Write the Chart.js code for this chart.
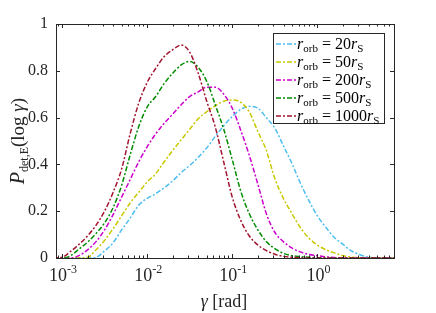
<!DOCTYPE html>
<html>
<head>
<meta charset="utf-8">
<script src="https://cdn.jsdelivr.net/npm/chart.js@4"></script>
<style>
  html, body { margin: 0; padding: 0; background: #fff; }
  canvas { display: block; }
</style>
</head>
<body>
<canvas id="chart" width="436" height="313"></canvas>
<script>
// gamma grid [rad], log-spaced
const gammaRad = [7.94e-4, 1.00e-3, 1.26e-3, 1.58e-3, 2.00e-3, 2.51e-3, 3.16e-3, 3.98e-3, 5.01e-3, 6.31e-3,
  7.94e-3, 1.00e-2, 1.26e-2, 1.58e-2, 2.00e-2, 2.51e-2, 3.16e-2, 3.98e-2, 5.01e-2, 6.31e-2,
  7.94e-2, 0.100, 0.126, 0.158, 0.200, 0.251, 0.316, 0.398, 0.501, 0.631,
  0.794, 1.00, 1.26, 1.58, 2.00, 2.51, 3.16, 3.98, 5.01, 6.31, 7.94, 10.0];

const p20 = [0, 0, 0, 0, 0, 0.003, 0.03, 0.065, 0.12, 0.17,
  0.225, 0.255, 0.275, 0.30, 0.33, 0.365, 0.395, 0.43, 0.47, 0.52,
  0.565, 0.605, 0.635, 0.648, 0.64, 0.60, 0.555, 0.48, 0.405, 0.32,
  0.245, 0.18, 0.13, 0.088, 0.058, 0.03, 0.014, 0.004, 0, 0, 0, 0];
const p50 = [0, 0, 0, 0, 0.003, 0.035, 0.075, 0.125, 0.18, 0.235,
  0.28, 0.325, 0.36, 0.41, 0.46, 0.505, 0.55, 0.595, 0.625, 0.65,
  0.67, 0.675, 0.665, 0.625, 0.54, 0.46, 0.34, 0.255, 0.19, 0.13,
  0.085, 0.055, 0.035, 0.022, 0.01, 0.004, 0.001, 0, 0, 0, 0, 0];
const p200 = [0, 0, 0, 0.01, 0.035, 0.07, 0.12, 0.185, 0.26, 0.335,
  0.41, 0.475, 0.53, 0.575, 0.615, 0.655, 0.69, 0.71, 0.73, 0.73,
  0.70, 0.64, 0.545, 0.44, 0.315, 0.19, 0.11, 0.07, 0.043, 0.026,
  0.015, 0.01, 0.005, 0.002, 0, 0, 0, 0, 0, 0, 0, 0];
const p500 = [0, 0, 0.01, 0.038, 0.068, 0.105, 0.15, 0.215, 0.31, 0.44,
  0.56, 0.645, 0.69, 0.745, 0.79, 0.825, 0.84, 0.815, 0.755, 0.655,
  0.55, 0.42, 0.285, 0.19, 0.12, 0.07, 0.04, 0.02, 0.01, 0.006,
  0.003, 0.001, 0, 0, 0, 0, 0, 0, 0, 0, 0, 0];
const p1000 = [0, 0.003, 0.028, 0.058, 0.095, 0.14, 0.2, 0.28, 0.38, 0.53,
  0.66, 0.75, 0.81, 0.86, 0.89, 0.91, 0.88, 0.79, 0.67, 0.56,
  0.41, 0.26, 0.16, 0.095, 0.055, 0.032, 0.016, 0.007, 0.003, 0.001,
  0, 0, 0, 0, 0, 0, 0, 0, 0, 0, 0, 0];

const orbitLabels = ["20", "50", "200", "500", "1000"];
const seriesColors = ["#4DBEEE", "#C8C800", "#CC00CC", "#008C00", "#A2142F"];
const series = [p20, p50, p200, p500, p1000];
const yTicks = [0, 0.2, 0.4, 0.6, 0.8, 1];
const xDecades = [-3, -2, -1, 0];

const axisColor = "#262626";
const serif = "'Liberation Serif', 'DejaVu Serif', serif";

// draws a run of [text, size, italic, dy] pieces starting at x
function drawRuns(ctx, runs, x, y, measureOnly) {
  let cx = x;
  runs.forEach(([txt, size, italic, dy]) => {
    ctx.font = (italic ? "italic " : "") + size + "px " + serif;
    if (!measureOnly) ctx.fillText(txt, cx, y + (dy || 0));
    cx += ctx.measureText(txt).width;
  });
  return cx - x;
}

const decorPlugin = {
  id: "decor",
  afterDraw(chart) {
    const { ctx, chartArea: a, scales } = chart;
    const xs = scales.x, ys = scales.y;
    ctx.save();
    ctx.strokeStyle = axisColor;
    ctx.lineWidth = 1;
    ctx.strokeRect(Math.round(a.left) + 0.5, Math.round(a.top) + 0.5,
      Math.round(a.right - a.left), Math.round(a.bottom - a.top));

    // inward ticks
    ctx.beginPath();
    yTicks.forEach(v => {
      const py = Math.round(ys.getPixelForValue(v)) + 0.5;
      ctx.moveTo(a.left, py); ctx.lineTo(a.left + 4, py);
      ctx.moveTo(a.right, py); ctx.lineTo(a.right - 4, py);
    });
    for (let d = -4; d <= 0; d++) {
      for (let k = 1; k <= 9; k++) {
        const v = k * Math.pow(10, d);
        if (v < xs.min || v > xs.max) continue;
        const px = Math.round(xs.getPixelForValue(v)) + 0.5;
        const len = k === 1 ? 4 : 2.5;
        ctx.moveTo(px, a.bottom); ctx.lineTo(px, a.bottom - len);
        ctx.moveTo(px, a.top); ctx.lineTo(px, a.top + len);
      }
    }
    ctx.stroke();

    // x tick labels 10^n
    ctx.fillStyle = axisColor;
    ctx.textBaseline = "alphabetic";
    ctx.textAlign = "left";
    xDecades.forEach(d => {
      const px = xs.getPixelForValue(Math.pow(10, d));
      const runs = [["10", 18, false, 0], [d === 0 ? "0" : "-" + (-d), 12, false, -8]];
      const w = drawRuns(ctx, runs, 0, 0, true);
      drawRuns(ctx, runs, px - w / 2 + 1, 281);
    });

    // x axis title
    const xr = [["γ", 18, true, 0], [" [rad]", 18, false, 0]];
    const xw = drawRuns(ctx, xr, 0, 0, true);
    drawRuns(ctx, xr, 224 - xw / 2, 307);

    // y axis title, rotated
    const yr = [["P", 20, true, 0], ["det,E", 12, false, 4], ["(log ", 19, false, 0], ["γ", 19, true, 0], [")", 19, false, 0]];
    const yw = drawRuns(ctx, yr, 0, 0, true);
    ctx.save();
    ctx.translate(24, 141);
    ctx.rotate(-Math.PI / 2);
    drawRuns(ctx, yr, -yw / 2, 0);
    ctx.restore();

    // legend
    const lx = 273, ly = 33, lw = 111, lh = 90;
    ctx.fillStyle = "#fff";
    ctx.fillRect(lx, ly, lw, lh);
    ctx.strokeStyle = axisColor;
    ctx.strokeRect(lx + 0.5, ly + 0.5, lw, lh);
    orbitLabels.forEach((lab, i) => {
      const ry = 44 + i * 18;
      ctx.strokeStyle = seriesColors[i];
      ctx.lineWidth = 1.5;
      ctx.setLineDash([5, 2, 2, 2]);
      ctx.beginPath();
      ctx.moveTo(276, ry); ctx.lineTo(296, ry);
      ctx.stroke();
      ctx.setLineDash([]);
      ctx.fillStyle = "#000";
      drawRuns(ctx, [["r", 16, true, 0], ["orb", 11, false, 3], [" = ", 16, false, 0],
        [lab, 16, false, 0], ["r", 16, true, 0], ["S", 11, false, 3]], 297, ry + 5);
    });
    ctx.restore();
  }
};

new Chart(document.getElementById("chart").getContext("2d"), {
  type: "line",
  data: {
    datasets: series.map((vals, i) => ({
      label: "r_orb = " + orbitLabels[i] + "r_S",
      data: gammaRad.map((g, j) => ({ x: g, y: vals[j] })),
      borderColor: seriesColors[i],
      borderWidth: 1.5,
      borderDash: [5, 2, 2, 2],
      pointRadius: 0,
      fill: false,
      cubicInterpolationMode: "monotone",
      order: 5 - i,
    })),
  },
  options: {
    responsive: false,
    animation: false,
    layout: { padding: { top: 24, right: 42, left: 0, bottom: 0 } },
    plugins: { legend: { display: false }, tooltip: { enabled: false } },
    scales: {
      x: {
        type: "logarithmic",
        min: 8.5e-4,
        max: 7.94,
        afterBuildTicks: s => { s.ticks = xDecades.map(d => ({ value: Math.pow(10, d) })); },
        afterFit: s => { s.height = 55; },
        ticks: { display: false },
        grid: { display: false, drawTicks: false },
        border: { display: false },
      },
      y: {
        min: 0,
        max: 1,
        afterBuildTicks: s => { s.ticks = yTicks.map(v => ({ value: v })); },
        afterFit: s => { s.width = 56; },
        ticks: {
          padding: 8,
          color: axisColor,
          font: { family: serif, size: 16 },
          callback: v => String(+v.toFixed(1)),
        },
        grid: { display: false, drawTicks: false },
        border: { display: false },
      },
    },
  },
  plugins: [decorPlugin],
});
</script>
</body>
</html>
